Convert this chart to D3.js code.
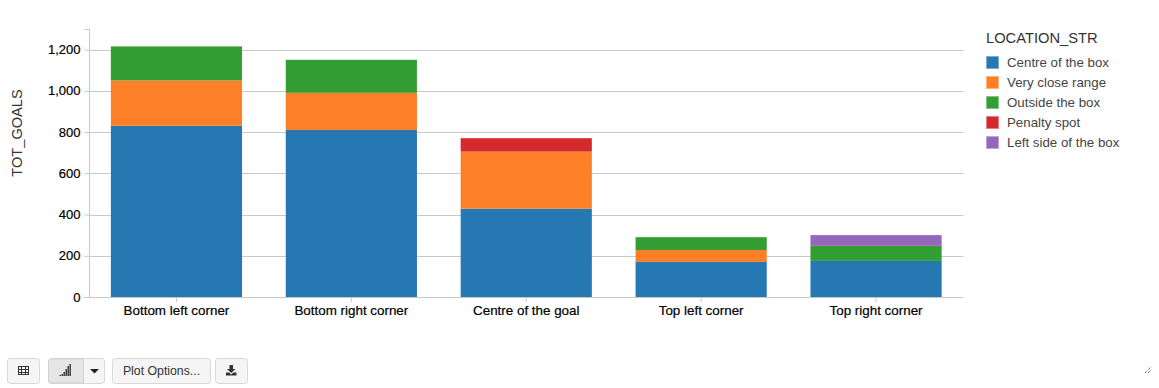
<!DOCTYPE html>
<html>

<head>
    <meta charset="utf-8">
    <title>Goals by location</title>
    <style>
        html, body { margin: 0; padding: 0; background: #fff; overflow: hidden; }
        svg { display: block; font-family: "Liberation Sans", Arial, sans-serif; }
        .btn { fill: #f5f5f5; stroke: #d9d9d9; }
    </style>
</head>

<body>
    <script src="https://d3js.org/d3.v7.min.js"></script>
    <script>
    // Data
    const categories = ["Bottom left corner", "Bottom right corner", "Centre of the goal", "Top left corner", "Top right corner"];
    const locations = ["Centre of the box", "Very close range", "Outside the box", "Penalty spot", "Left side of the box"];
    const centreOfBox = [830, 810, 428, 170, 175];
    const veryClose = [220, 180, 277, 58, 0];
    const outsideBox = [165, 160, 0, 62, 73];
    const penaltySpot = [0, 0, 65, 0, 0];
    const leftSide = [0, 0, 0, 0, 52];
    const yTicks = [0, 200, 400, 600, 800, 1000, 1200];
    const colors = ["#2678b2", "#fd7f28", "#339e34", "#d42a2f", "#9567bb"];

    const seriesValues = [centreOfBox, veryClose, outsideBox, penaltySpot, leftSide];
    const rows = categories.map((c, i) => {
        const row = { category: c };
        locations.forEach((l, j) => { row[l] = seriesValues[j][i]; });
        return row;
    });

    const svg = d3.select("body").append("svg")
        .attr("width", 1159)
        .attr("height", 388);

    // Scales
    const x = d3.scaleBand().domain(categories).range([89, 963.5]).paddingInner(0.25).paddingOuter(0.125);
    const y = d3.scaleLinear().domain([0, 1297]).range([297, 29.5]);

    // Gridlines go behind the bars
    svg.append("g")
        .selectAll("line")
        .data(yTicks.slice(1))
        .enter()
        .append("line")
        .attr("x1", 89)
        .attr("x2", 963.5)
        .attr("y1", d => Math.round(y(d)) + 0.5)
        .attr("y2", d => Math.round(y(d)) + 0.5)
        .attr("stroke", "#c8c8c8");

    // Stacked bars
    const stack = d3.stack().keys(locations)(rows);
    svg.append("g")
        .selectAll("g")
        .data(stack)
        .enter()
        .append("g")
        .attr("fill", (d, i) => colors[i])
        .selectAll("rect")
        .data(d => d.filter(s => s[1] > s[0]))
        .enter()
        .append("rect")
        .attr("x", d => x(d.data.category))
        .attr("width", x.bandwidth())
        .attr("y", d => y(d[1]))
        .attr("height", d => y(d[0]) - y(d[1]));

    // Axes
    const yAxis = svg.append("g")
        .attr("transform", "translate(89.5,0)")
        .call(d3.axisLeft(y).tickValues(yTicks).tickFormat(d3.format(",")).tickSize(5).tickPadding(4));
    const xAxis = svg.append("g")
        .attr("transform", "translate(0,297.5)")
        .call(d3.axisBottom(x).tickSize(5).tickPadding(3));
    [yAxis, xAxis].forEach(a => {
        a.selectAll("path, line").attr("stroke", "#c8c8c8");
        a.selectAll("text").attr("fill", "#000")
            .attr("stroke", "#000").attr("stroke-width", 0.2)
            .style("font-family", "\"Liberation Sans\", Arial, sans-serif");
    });
    yAxis.selectAll("text").style("font-size", "13px");
    xAxis.selectAll("text").style("font-size", "13.4px");
    xAxis.select(".domain").attr("d", "M89,0H963.5");
    yAxis.select(".domain").attr("d", "M-5,29.5H0V297.5H-5");

    // Y title
    svg.append("text")
        .attr("transform", "translate(22,133) rotate(-90)")
        .attr("text-anchor", "middle")
        .attr("fill", "#333")
        .style("font-size", "14.6px")
        .text("TOT_GOALS");

    // Legend
    svg.append("text")
        .attr("x", 986)
        .attr("y", 43)
        .attr("fill", "#333")
        .style("font-size", "14.7px")
        .text("LOCATION_STR");
    const legend = svg.append("g")
        .selectAll("g")
        .data(locations)
        .enter()
        .append("g")
        .attr("transform", (d, i) => `translate(986,${56 + i * 20})`);
    legend.append("rect")
        .attr("x", 0.5)
        .attr("y", 0.5)
        .attr("width", 12)
        .attr("height", 12)
        .attr("fill", (d, i) => colors[i])
        .attr("stroke", (d, i) => d3.interpolateRgb(colors[i], "#fff")(0.4));
    legend.append("text")
        .attr("x", 21)
        .attr("y", 11)
        .attr("fill", "#444")
        .style("font-size", "13.3px")
        .text(d => d);

    // Toolbar under the plot
    const bar = svg.append("g");
    function button(xPos, w) {
        bar.append("rect").attr("class", "btn")
            .attr("x", xPos + 0.5).attr("y", 358.5)
            .attr("width", w).attr("height", 25).attr("rx", 3);
    }
    button(7, 32);
    button(48, 56);
    button(112, 98);
    button(215, 32);

    // pressed half of the chart button
    bar.append("path").attr("d", "M83.5,359H51.5Q48.5,359 48.5,362V380Q48.5,383 51.5,383H83.5Z")
        .attr("fill", "#e6e6e6").attr("stroke", "#d0d0d0");

    // table icon
    bar.append("rect").attr("x", 18.5).attr("y", 366.5).attr("width", 10).attr("height", 8)
        .attr("fill", "none").attr("stroke", "#333");
    bar.append("path").attr("d", "M18,369.5H29M18,372.5H29M21.5,366V375M25.5,366V375")
        .attr("stroke", "#333").attr("stroke-width", 1).attr("fill", "none");

    // signal icon
    const signal = [1, 2, 4, 7, 10, 12];
    bar.append("g").selectAll("rect").data(signal).enter().append("rect")
        .attr("x", (d, i) => 59.5 + i * 2)
        .attr("y", d => 376 - d)
        .attr("width", 1.4)
        .attr("height", d => d)
        .attr("fill", "#333");

    // caret
    bar.append("path").attr("d", "M90,369H99L94.5,373.5Z").attr("fill", "#222");

    bar.append("text").attr("x", 161.5).attr("y", 375).attr("text-anchor", "middle")
        .attr("fill", "#333").style("font-size", "12.3px").text("Plot Options...");

    // download icon
    bar.append("path").attr("d", "M229.5,365H233V369H235.5L231.2,373L227,369H229.5ZM226,372.5H229L231.2,374.5L233.5,372.5H236.5V375.5H226Z")
        .attr("fill", "#333");

    // resize handle
    bar.append("path").attr("d", "M1145,373L1151,367M1148,373L1151,370")
        .attr("stroke", "#444").attr("stroke-width", 1).attr("stroke-dasharray", "1,1").attr("fill", "none");
    </script>
</body>

</html>
